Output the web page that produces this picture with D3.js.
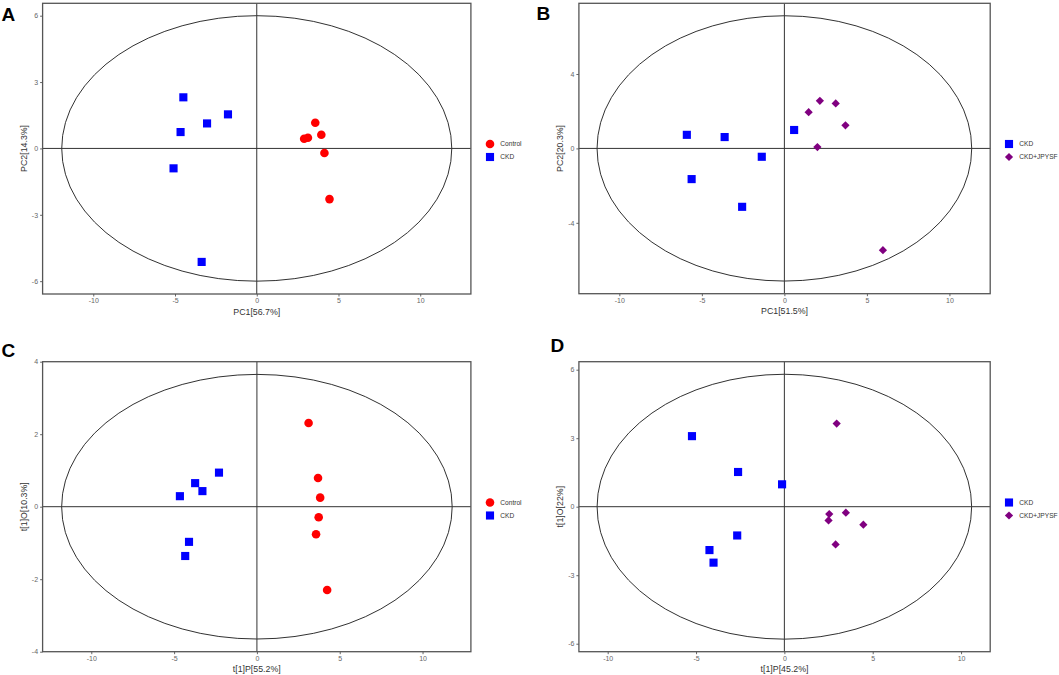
<!DOCTYPE html>
<html><head><meta charset="utf-8">
<script src="https://cdn.jsdelivr.net/npm/d3@7"></script>
<style>body{margin:0;background:#fff}svg{display:block}text{font-family:"Liberation Sans",Arial,sans-serif}</style>
</head><body>
<svg id="chart" width="1059" height="675"></svg>
<script>
// ---- Data ----
const xTicks = [-10, -5, 0, 5, 10];
const yTicksA = [-6, -3, 0, 3, 6];
const yTicksB = [-4, 0, 4];
const yTicksC = [-4, -2, 0, 2, 4];
const yTicksD = [-6, -3, 0, 3, 6];

// Panel A (PCA Control vs CKD)
const aControlX = [3.58, 2.90, 3.13, 3.95, 4.14, 4.45];
const aControlY = [1.16, 0.44, 0.48, 0.62, -0.21, -2.29];
const aCkdX = [-4.49, -1.76, -3.04, -4.66, -5.09, -3.37];
const aCkdY = [2.31, 1.54, 1.13, 0.74, -0.90, -5.13];

// Panel B (PCA CKD vs CKD+JPYSF)
const bCkdX = [-5.91, -3.62, 0.59, -1.37, -5.62, -2.56];
const bCkdY = [0.73, 0.61, 0.99, -0.45, -1.65, -3.14];
const bJpX = [1.47, 2.15, 3.11, 3.70, 2.00, 5.97];
const bJpY = [1.95, 2.56, 2.42, 1.24, 0.07, -5.47];

// Panel C (OPLS-DA Control vs CKD)
const cControlX = [3.12, 3.69, 3.82, 3.73, 3.57, 4.24];
const cControlY = [2.31, 0.79, 0.25, -0.29, -0.76, -2.30];
const cCkdX = [-2.29, -3.73, -3.29, -4.65, -4.10, -4.33];
const cCkdY = [0.94, 0.65, 0.43, 0.29, -0.97, -1.36];

// Panel D (OPLS-DA CKD vs CKD+JPYSF)
const dCkdX = [-5.23, -2.62, -0.13, -2.67, -4.24, -4.01];
const dCkdY = [3.09, 1.52, 0.98, -1.26, -1.90, -2.45];
const dJpX = [2.96, 2.54, 3.48, 2.50, 4.47, 2.90];
const dJpY = [3.64, -0.32, -0.26, -0.60, -0.79, -1.65];

const panelLetters = ["A", "B", "C", "D"];
const xTitles = ["PC1[56.7%]", "PC1[51.5%]", "t[1]P[55.2%]", "t[1]P[45.2%]"];
const yTitles = ["PC2[14.3%]", "PC2[20.3%]", "t[1]O[10.3%]", "t[1]O[22%]"];
const xDomains = [[-13.1, 13.1], [-12.45, 12.47], [-12.94, 12.92], [-11.63, 11.65]];
const yDomains = [[-6.58, 6.56], [-7.81, 7.8], [-4, 4], [-6.35, 6.35]];
const ellipseR = [[11.93, 6.0], [11.35, 7.13], [11.79, 3.65], [10.6, 5.8]];

const groupStyle = {
  "Control": {color: "#ff0000", shape: "circle"},
  "CKD": {color: "#0000ff", shape: "square"},
  "CKD+JPYSF": {color: "#800080", shape: "diamond"}
};

const zip = (xs, ys) => xs.map((x, i) => ({x, y: ys[i]}));

const panels = [
  {yTicks: yTicksA, groups: [{name: "Control", pts: zip(aControlX, aControlY)}, {name: "CKD", pts: zip(aCkdX, aCkdY)}]},
  {yTicks: yTicksB, groups: [{name: "CKD", pts: zip(bCkdX, bCkdY)}, {name: "CKD+JPYSF", pts: zip(bJpX, bJpY)}]},
  {yTicks: yTicksC, groups: [{name: "Control", pts: zip(cControlX, cControlY)}, {name: "CKD", pts: zip(cCkdX, cCkdY)}]},
  {yTicks: yTicksD, groups: [{name: "CKD", pts: zip(dCkdX, dCkdY)}, {name: "CKD+JPYSF", pts: zip(dJpX, dJpY)}]}
];

// ---- Layout ----
const boxes = [
  {l: 42.6, r: 470.9, t: 3.3, b: 294},
  {l: 578.9, r: 990.2, t: 3.3, b: 293.7},
  {l: 42.6, r: 470.9, t: 361.7, b: 651.7},
  {l: 578.9, r: 990.2, t: 361.7, b: 651.7}
];
const letterPos = [[1.5, 20.5], [536.5, 20], [1.5, 356.5], [550.5, 352]];
const legendPos = [[490, 144], [1009, 144], [490, 502.5], [1009, 502.5]];

const svg = d3.select("#chart");

function symbolPath(shape) {
  if (shape === "circle") return d3.symbol().type(d3.symbolCircle).size(58)();
  return d3.symbol().type(d3.symbolSquare).size(shape === "square" ? 66 : 34)();
}
const symRot = shape => shape === "diamond" ? " rotate(45)" : "";

panels.forEach((p, i) => {
  const bx = boxes[i];
  const x = d3.scaleLinear().domain(xDomains[i]).range([bx.l, bx.r]);
  const y = d3.scaleLinear().domain(yDomains[i]).range([bx.b, bx.t]);
  const g = svg.append("g");

  // ellipse
  g.append("ellipse")
    .attr("cx", x(0)).attr("cy", y(0))
    .attr("rx", x(ellipseR[i][0]) - x(0))
    .attr("ry", y(0) - y(ellipseR[i][1]))
    .attr("fill", "none").attr("stroke", "#1a1a1a").attr("stroke-width", 0.9);

  // crosshair
  g.append("line").attr("x1", x(0)).attr("x2", x(0)).attr("y1", bx.t).attr("y2", bx.b)
    .attr("stroke", "#333").attr("stroke-width", 1);
  g.append("line").attr("x1", bx.l).attr("x2", bx.r).attr("y1", y(0)).attr("y2", y(0))
    .attr("stroke", "#333").attr("stroke-width", 1);

  // axes
  const xAxis = d3.axisBottom(x).tickValues(xTicks).tickSize(2.5).tickPadding(2).tickFormat(d => String(d));
  const yAxis = d3.axisLeft(y).tickValues(p.yTicks).tickSize(2.5).tickPadding(2).tickFormat(d => String(d));
  const gx = g.append("g").attr("transform", `translate(0,${bx.b})`).call(xAxis);
  const gy = g.append("g").attr("transform", `translate(${bx.l},0)`).call(yAxis);
  [gx, gy].forEach(a => {
    a.select(".domain").remove();
    a.selectAll(".tick line").attr("stroke", "#555").attr("stroke-width", 0.9);
    a.selectAll(".tick text").attr("fill", "#666").attr("font-size", 7);
  });

  // box
  g.append("rect").attr("x", bx.l).attr("y", bx.t).attr("width", bx.r - bx.l).attr("height", bx.b - bx.t)
    .attr("fill", "none").attr("stroke", "#555").attr("stroke-width", 1.3);

  // points
  p.groups.forEach(gr => {
    const st = groupStyle[gr.name];
    g.selectAll(null).data(gr.pts).enter().append("path")
      .attr("d", symbolPath(st.shape))
      .attr("transform", d => `translate(${x(d.x)},${y(d.y)})${symRot(st.shape)}`)
      .attr("fill", st.color);
  });

  // titles
  g.append("text").attr("x", (bx.l + bx.r) / 2).attr("y", bx.b + 20.5)
    .attr("text-anchor", "middle").attr("font-size", 8.8).attr("fill", "#333").text(xTitles[i]);
  g.append("text").attr("transform", `translate(${bx.l - 15.5},${y(0)}) rotate(-90)`)
    .attr("text-anchor", "middle").attr("font-size", 8.8).attr("fill", "#333").text(yTitles[i]);

  // legend
  const [lx, ly] = legendPos[i];
  p.groups.forEach((gr, k) => {
    const st = groupStyle[gr.name];
    const yy = ly + k * 13;
    g.append("path").attr("d", symbolPath(st.shape))
      .attr("transform", `translate(${lx},${yy})${symRot(st.shape)}`).attr("fill", st.color);
    g.append("text").attr("x", lx + 10.3).attr("y", yy + 2.4).attr("font-size", 6.6)
      .attr("fill", "#333").text(gr.name);
  });

  // panel letter
  g.append("text").attr("x", letterPos[i][0]).attr("y", letterPos[i][1])
    .attr("font-size", 19).attr("font-weight", "bold").attr("fill", "#000").text(panelLetters[i]);
});
</script>
</body></html>
